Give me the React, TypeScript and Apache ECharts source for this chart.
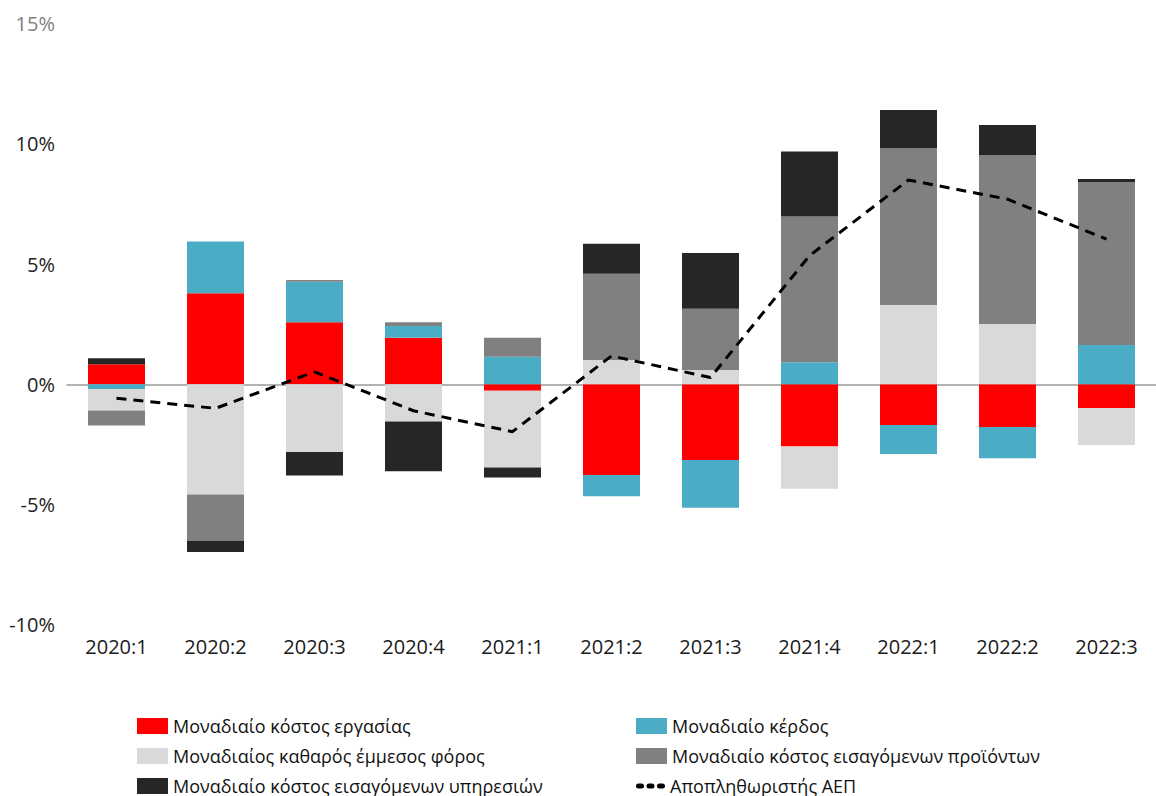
import React, { useEffect, useRef } from "react";
import * as echarts from "echarts";

const categories = ["2020:1", "2020:2", "2020:3", "2020:4", "2021:1", "2021:2", "2021:3", "2021:4", "2022:1", "2022:2", "2022:3"];

const labourCost = [0.83, 3.79, 2.58, 1.94, -0.27, -3.77, -3.15, -2.59, -1.69, -1.78, -0.99];
const profit = [-0.2, 2.15, 1.69, 0.49, 1.15, -0.89, -1.98, 0.92, -1.21, -1.3, 1.63];
const indirectTax = [-0.89, -4.58, -2.82, -1.55, -3.19, 1.01, 0.6, -1.75, 3.3, 2.51, -1.53];
const importedGoods = [-0.62, -1.94, 0.07, 0.15, 0.79, 3.59, 2.54, 6.06, 6.53, 7.03, 6.79];
const importedServices = [0.25, -0.46, -0.97, -2.07, -0.42, 1.25, 2.32, 2.7, 1.58, 1.25, 0.12];
const gdpDeflator = [-0.58, -1.0, 0.52, -1.1, -1.97, 1.18, 0.28, 5.35, 8.5, 7.7, 6.04];

const yTicks = { min: -10, max: 15, interval: 5 };

const names = {
  labour: "Μοναδιαίο κόστος εργασίας",
  profit: "Μοναδιαίο κέρδος",
  tax: "Μοναδιαίος καθαρός έμμεσος φόρος",
  goods: "Μοναδιαίο κόστος εισαγόμενων προϊόντων",
  services: "Μοναδιαίο κόστος εισαγόμενων υπηρεσιών",
  deflator: "Αποπληθωριστής ΑΕΠ",
};

const colors = {
  labour: "#ff0000",
  profit: "#4bacc6",
  tax: "#d9d9d9",
  goods: "#808080",
  services: "#262626",
  deflator: "#000000",
};

const FONT = "'Open Sans', 'Noto Sans', sans-serif";
const dotsIcon =
  "path://M2.5,0H5.5A2.5,2.5 0 0 1 5.5,5H2.5A2.5,2.5 0 0 1 2.5,0Z M13,0H16A2.5,2.5 0 0 1 16,5H13A2.5,2.5 0 0 1 13,0Z M23.5,0H26.5A2.5,2.5 0 0 1 26.5,5H23.5A2.5,2.5 0 0 1 23.5,0Z";

export default function App() {
  const ref = useRef<HTMLDivElement>(null);

  useEffect(() => {
    if (!ref.current) return;
    const chart = echarts.init(ref.current, undefined, { renderer: "svg" });

    const bar = (key: keyof typeof colors, data: number[]) => ({
      name: names[key],
      type: "bar",
      stack: "total",
      stackStrategy: "samesign",
      barWidth: 57,
      itemStyle: { color: colors[key] },
      data,
    });

    const legendText = { fontFamily: FONT, fontSize: 18, color: "#111" };
    const legendItem = (name: string, left: number, centerY: number, extra: any = {}) => ({
      orient: "horizontal",
      left,
      top: centerY - 9,
      padding: 0,
      itemWidth: 31,
      itemHeight: 16,
      icon: "rect",
      textStyle: legendText,
      data: [name],
      ...extra,
    });

    chart.setOption({
      animation: false,
      textStyle: { fontFamily: FONT },
      grid: { left: 67, top: 23.7, width: 1101.7, height: 601 },
      xAxis: {
        type: "category",
        data: categories,
        axisLine: { onZero: true, lineStyle: { color: "#9a9a9a", width: 1.5 } },
        axisTick: { show: false },
        axisLabel: { fontFamily: FONT, fontSize: 20, color: "#1a1a1a", margin: 12 },
      },
      yAxis: {
        type: "value",
        min: yTicks.min,
        max: yTicks.max,
        interval: yTicks.interval,
        splitLine: { show: false },
        axisLine: { show: false },
        axisTick: { show: false },
        axisLabel: {
          fontFamily: FONT,
          fontSize: 20,
          margin: 12,
          formatter: (v: number) => `${v}%`,
          color: (v: any) => (Number(v) === 15 ? "#7f7f7f" : "#222222"),
        },
      },
      legend: [
        legendItem(names.labour, 137, 726),
        legendItem(names.tax, 137, 756),
        legendItem(names.services, 137, 786),
        legendItem(names.profit, 636, 726),
        legendItem(names.goods, 636, 756),
        legendItem(names.deflator, 636, 786, {
          itemWidth: 29,
          itemHeight: 5,
          icon: undefined,
          data: [{ name: names.deflator, icon: dotsIcon, itemStyle: { color: "#000" } }],
        }),
      ],
      series: [
        bar("labour", labourCost),
        bar("profit", profit),
        bar("tax", indirectTax),
        bar("goods", importedGoods),
        bar("services", importedServices),
        {
          name: names.deflator,
          type: "line",
          data: gdpDeflator,
          symbol: "none",
          itemStyle: { color: colors.deflator },
          lineStyle: { color: colors.deflator, width: 3, type: [10, 7] },
          z: 5,
        },
      ],
    });

    return () => chart.dispose();
  }, []);

  return (
    <div
      ref={ref}
      style={{ position: "fixed", left: 0, top: 0, width: 1156, height: 796, background: "#fff" }}
    />
  );
}
